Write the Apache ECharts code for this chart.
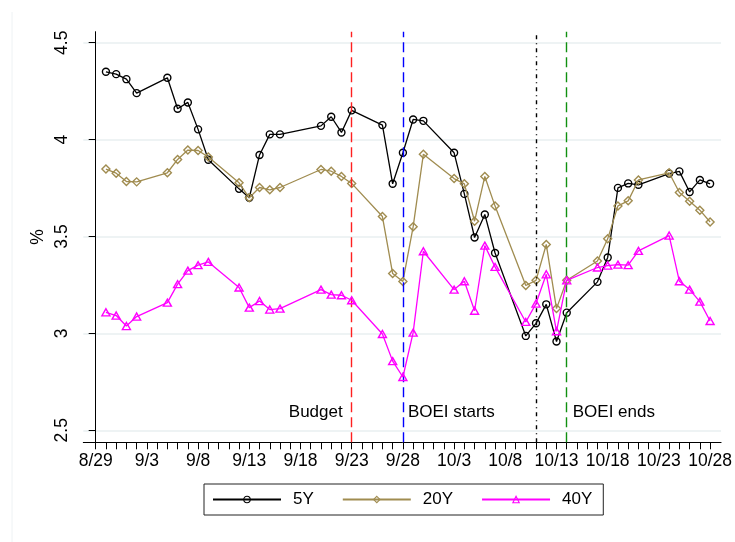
<!DOCTYPE html>
<html>
<head>
<meta charset="utf-8">
<script src="https://cdn.jsdelivr.net/npm/echarts@6/dist/echarts.min.js"></script>
<style>
html,body{margin:0;padding:0;background:#fff;}
#chart{width:735px;height:542px;}
</style>
</head>
<body>
<div id="chart"></div>
<script>
// ---- data ----
const dates = ['8/30','8/31','9/1','9/2','9/5','9/6','9/7','9/8','9/9','9/12','9/13','9/14','9/15','9/16',
  '9/20','9/21','9/22','9/23','9/26','9/27','9/28','9/29','9/30',
  '10/3','10/4','10/5','10/6','10/7','10/10','10/11','10/12','10/13','10/14',
  '10/17','10/18','10/19','10/20','10/21','10/24','10/25','10/26','10/27','10/28'];
const y5 = [4.35,4.338,4.312,4.24,4.319,4.159,4.192,4.053,3.896,3.746,3.70,3.921,4.027,4.027,
  4.071,4.118,4.037,4.151,4.075,3.772,3.932,4.104,4.097,
  3.932,3.72,3.495,3.614,3.415,2.987,3.052,3.15,2.958,3.107,
  3.266,3.392,3.751,3.774,3.767,3.825,3.836,3.73,3.792,3.772];
const y20 = [3.848,3.827,3.784,3.782,3.829,3.898,3.946,3.944,3.91,3.777,3.70,3.753,3.741,3.753,
  3.846,3.837,3.81,3.774,3.603,3.309,3.268,3.55,3.925,
  3.799,3.772,3.579,3.81,3.657,3.247,3.274,3.459,3.128,3.274,
  3.374,3.488,3.658,3.684,3.792,3.829,3.727,3.682,3.636,3.575];
const y40 = [3.109,3.092,3.038,3.087,3.159,3.254,3.324,3.352,3.369,3.237,3.133,3.167,3.123,3.128,
  3.226,3.20,3.197,3.171,2.997,2.857,2.775,3.004,3.424,
  3.226,3.269,3.117,3.453,3.343,3.059,3.154,3.305,3.011,3.274,
  3.34,3.35,3.355,3.352,3.426,3.505,3.269,3.226,3.164,3.064];
const seriesNames = ['5Y','20Y','40Y'];
const xTickLabels = ['8/29','9/3','9/8','9/13','9/18','9/23','9/28','10/3','10/8','10/13','10/18','10/23','10/28'];
const yTickLabels = [2.5,3,3.5,4,4.5];
const eventDates = ['9/23','9/28','10/11','10/14'];
const eventTexts = ['Budget','BOEI starts','','BOEI ends'];
const allDays = ['8/29','10/28'];

// ---- helpers ----
const base = new Date(2022,7,29);
function dayIdx(s){const [m,d]=s.split('/').map(Number);return Math.round((new Date(2022,m-1,d)-base)/86400000);}
function idxLabel(i){const dt=new Date(2022,7,29+Math.round(i));return (dt.getMonth()+1)+'/'+dt.getDate();}
const firstDay = dayIdx(allDays[0]), lastDay = dayIdx(allDays[1]);
const dayTicks = []; for(let i=firstDay;i<=lastDay;i++) dayTicks.push(i);

const FONT = 'Liberation Sans, Arial, sans-serif';
const colors = ['#000000','#A08C50','#FF00FF'];
const symbols = ['circle','diamond','triangle'];
const symSizes = [7,8,[8,7]];
const vals = [y5,y20,y40];

const evStyles = [
  {color:'#FF2020',type:[10,5],width:1.4},
  {color:'#0000FF',type:[10,5],width:1.4},
  {color:'#000000',type:[4,4,1,4],width:1.4},
  {color:'#109010',type:[10,5],width:1.4}
];
const evPos = ['left','right','right','right'];
const evDist = [9,5,5,6];

const series = seriesNames.map((nm,k)=>({
  name:nm, type:'line',
  data: dates.map((d,i)=>[dayIdx(d), vals[k][i]]),
  symbol: symbols[k], symbolSize: symSizes[k], showSymbol:true,
  lineStyle:{color:colors[k], width:1.3},
  itemStyle:{color:'rgba(255,255,255,0)', borderColor:colors[k], borderWidth:1.4},
  emphasis:{disabled:true},
  animation:false, z:3+k
}));

series[0].markLine = {
  silent:true, symbol:'none', animation:false,
  label:{show:false},
  data: eventDates.map((d,i)=>({xAxis:dayIdx(d), lineStyle:evStyles[i]}))
};
series[0].markPoint = {
  silent:true, animation:false,
  data: eventDates.map((d,i)=>({
    coord:[dayIdx(d), 2.592], symbol:'rect', symbolSize:0,
    label:{show:!!eventTexts[i], formatter:eventTexts[i], position:evPos[i], distance:evDist[i],
      color:'#000', fontSize:17, fontFamily:FONT}
  })).filter(o=>o.label.show)
};

const chart = echarts.init(document.getElementById('chart'), null, {renderer:'canvas'});
chart.setOption({
  backgroundColor:'#ffffff',
  textStyle:{fontFamily:FONT},
  grid:{left:83.3, right:13.3, top:31.7, bottom:99.7, containLabel:false},
  xAxis:{
    type:'value', min:-1.21, max:61.07,
    axisLine:{show:true, lineStyle:{color:'#000', width:1}},
    axisTick:{show:true, length:7, lineStyle:{color:'#000', width:1}, customValues:dayTicks},
    axisLabel:{color:'#000', fontSize:17.5, fontFamily:FONT, margin:10,
      customValues:xTickLabels.map(dayIdx), formatter:v=>idxLabel(v)},
    splitLine:{show:false}
  },
  yAxis:{
    type:'value', min:2.438, max:4.557,
    name:'%', nameLocation:'middle', nameGap:36, nameRotate:90, nameMoveOverlap:false,
    nameTextStyle:{color:'#000', fontSize:17.5, fontFamily:FONT},
    axisLine:{show:true, lineStyle:{color:'#000', width:1}},
    axisTick:{show:true, length:7, lineStyle:{color:'#000', width:1}, customValues:yTickLabels},
    axisLabel:{color:'#000', fontSize:17.5, fontFamily:FONT, rotate:90, margin:12,
      customValues:yTickLabels, formatter:v=>String(v)},
    splitLine:{show:true, lineStyle:{color:'#E8EFF1', width:1.6}}
  },
  legend:{
    show:true, data:seriesNames, orient:'horizontal',
    left:204, top:484,
    padding:[7,11,7,8], itemGap:28, itemWidth:68, itemHeight:8,
    itemStyle:{borderWidth:1.1},
    borderColor:'#222', borderWidth:1,
    textStyle:{color:'#000', fontSize:17, fontFamily:FONT, padding:[0,0,0,7]},
    selectedMode:false
  },
  graphic:[{type:'line', shape:{x1:12,y1:12,x2:12,y2:542}, style:{stroke:'#EEF2F4', lineWidth:1}, silent:true}],
  series: series
});
</script>
</body>
</html>
